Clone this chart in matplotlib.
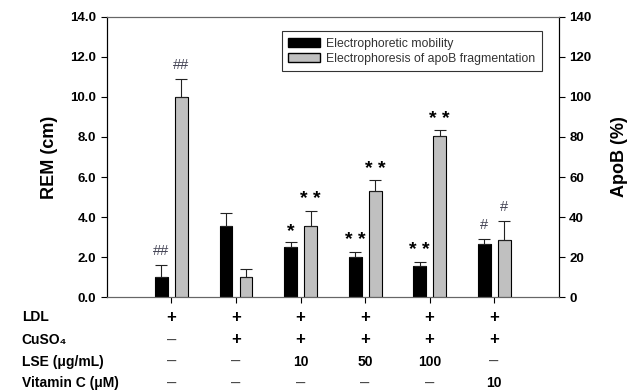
import numpy as np
import matplotlib
matplotlib.use("Agg")
import matplotlib.pyplot as plt
from matplotlib.patches import Patch

plt.rcParams['font.family'] = ['Liberation Sans', 'DejaVu Sans']

# Datos
groups = [0, 1, 2, 3, 4, 5]
rem = [1.02, 3.57, 2.48, 2.02, 1.57, 2.63]          # cm (eje izquierdo)
rem_err = [0.58, 0.61, 0.25, 0.22, 0.17, 0.26]
apob = [100.0, 10.2, 35.7, 53.0, 80.7, 28.3]        # % (eje derecho)
apob_err = [8.8, 4.1, 7.3, 5.3, 2.6, 9.7]
rem_marks = ["##", "", "*", "**", "**", "#"]
apob_marks = ["##", "", "**", "**", "**", "#"]

row_labels = ["LDL", "CuSO\u2084", "LSE (\u03bcg/mL)", "Vitamin C (\u03bcM)"]
ldl = ["+", "+", "+", "+", "+", "+"]
cuso4 = ["\u2013", "+", "+", "+", "+", "+"]
lse = ["\u2013", "\u2013", "10", "50", "100", "\u2013"]
vitc = ["\u2013", "\u2013", "\u2013", "\u2013", "\u2013", "10"]

fig = plt.figure(figsize=(6.4, 3.92), dpi=100)
ax = fig.add_axes([0.167, 0.242, 0.706, 0.715])
ax2 = ax.twinx()

x = np.array(groups)
w = 0.2
off = 0.155
gray = "#c0c0c0"

ax.bar(x - off, rem, w, color="black", edgecolor="black", linewidth=0.8,
       yerr=[np.zeros(len(rem)), rem_err], error_kw=dict(elinewidth=0.8, capsize=4, capthick=0.8, ecolor="#222222"))
ax2.bar(x + off, apob, w, color=gray, edgecolor="black", linewidth=0.8,
        yerr=[np.zeros(len(apob)), apob_err], error_kw=dict(elinewidth=0.8, capsize=4, capthick=0.8, ecolor="#222222"))

ax.set_xlim(-1, 6)
ax.set_ylim(0, 14)
ax2.set_ylim(0, 140)

ax.set_yticks(np.arange(0, 14.1, 2))
ax.set_yticklabels([f"{v:.1f}" for v in np.arange(0, 14.1, 2)], fontweight="bold", fontsize=9.5)
ax2.set_yticks(np.arange(0, 141, 20))
ax2.set_yticklabels([str(v) for v in range(0, 141, 20)], fontweight="bold", fontsize=9.5)
ax.set_xticks(groups)
ax.set_xticklabels([])
ax.tick_params(axis="both", direction="out", length=4, width=0.8)
ax2.tick_params(axis="y", direction="out", length=4, width=0.8)

ax.set_ylabel("REM (cm)", fontweight="bold", fontsize=13, labelpad=9)
ax2.set_ylabel("ApoB (%)", fontweight="bold", fontsize=13, labelpad=14)

for a in (ax, ax2):
    for s in a.spines.values():
        s.set_linewidth(0.8)
    a.spines["top"].set_color("#666666")
    a.spines["bottom"].set_color("#666666")

# Marcas de significancia
for i in range(len(groups)):
    for marks, vals, errs, axis, dx in [(rem_marks, rem, rem_err, ax, -off), (apob_marks, apob, apob_err, ax2, off)]:
        m = marks[i]
        if not m:
            continue
        top = vals[i] + errs[i]
        span = axis.get_ylim()[1]
        if "*" in m:
            axis.text(i + dx, top + span * 0.01, " ".join(m), ha="center", va="bottom",
                      fontsize=14, fontweight="bold", color="black")
        else:
            axis.text(i + dx, top + span * 0.025, m, ha="center", va="bottom",
                      fontsize=10.5, color="#444455")

handles = [Patch(facecolor="black", edgecolor="black"),
           Patch(facecolor=gray, edgecolor="black")]
leg = ax.legend(handles, ["Electrophoretic mobility", "Electrophoresis of apoB fragmentation"],
                loc="upper right", bbox_to_anchor=(0.977, 0.972), fontsize=8.8, frameon=True,
                fancybox=False, edgecolor="black", handlelength=2.6, handleheight=0.7,
                handletextpad=0.5, borderpad=0.55, labelspacing=0.25)
leg.get_frame().set_linewidth(0.8)
for t in leg.get_texts():
    t.set_color("#333333")

# Tabla de condiciones debajo del eje
row_y = [0.191, 0.133, 0.077, 0.023]
rows = [ldl, cuso4, lse, vitc]
trans = matplotlib.transforms.blended_transform_factory(ax.transData, fig.transFigure)
for lab, yy, vals in zip(row_labels, row_y, rows):
    fig.text(0.034, yy, lab, ha="left", va="center", fontsize=10, fontweight="bold")
    for i, v in enumerate(vals):
        if v == "+":
            fig.text(groups[i], yy, v, transform=trans, ha="center", va="center",
                     fontsize=12, fontweight="bold", color="black")
        elif v == "\u2013":
            fig.text(groups[i], yy, v, transform=trans, ha="center", va="center",
                     fontsize=12, color="#444444")
        else:
            fig.text(groups[i], yy, v, transform=trans, ha="center", va="center",
                     fontsize=10, fontweight="bold")

fig.savefig("out.png", dpi=100)
